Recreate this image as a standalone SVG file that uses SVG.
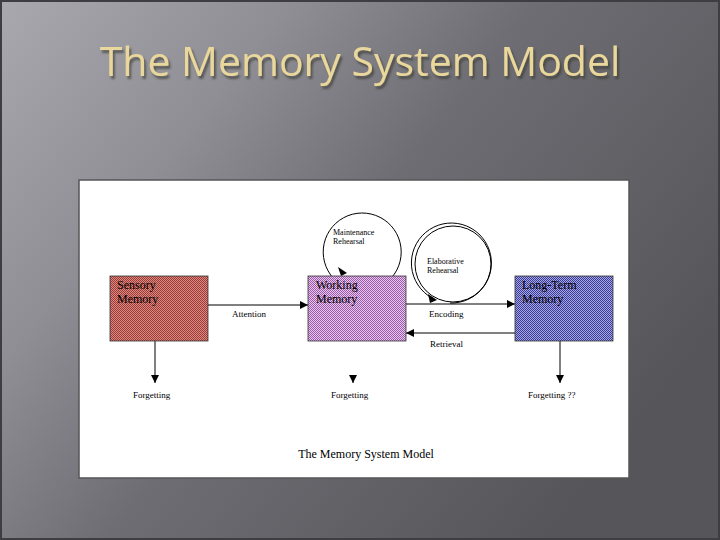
<svg xmlns="http://www.w3.org/2000/svg" width="720" height="540" viewBox="0 0 720 540">
<defs>
<linearGradient id="bg" x1="0" y1="0" x2="1" y2="0.6">
<stop offset="0" stop-color="#a9a8ae"/><stop offset="0.3" stop-color="#8f8e94"/><stop offset="0.55" stop-color="#6e6d73"/><stop offset="1" stop-color="#56555a"/>
</linearGradient>
<filter id="sh" x="-5%" y="-20%" width="110%" height="150%"><feDropShadow dx="2" dy="3" stdDeviation="0.8" flood-color="#3a3a34" flood-opacity="0.7"/></filter>
<pattern id="red" width="2" height="2" patternUnits="userSpaceOnUse"><rect width="2" height="2" fill="#d88a84"/><rect width="1" height="1" fill="#a03a34"/><rect x="1" y="1" width="1" height="1" fill="#a03a34"/></pattern>
<pattern id="pur" width="2" height="2" patternUnits="userSpaceOnUse"><rect width="2" height="2" fill="#e8c8ee"/><rect width="1" height="1" fill="#9a5aa8"/><rect x="1" y="1" width="1" height="1" fill="#9a5aa8"/></pattern>
<pattern id="blu" width="2" height="2" patternUnits="userSpaceOnUse"><rect width="2" height="2" fill="#a8a8e0"/><rect width="1" height="1" fill="#3a3a9a"/><rect x="1" y="1" width="1" height="1" fill="#3a3a9a"/></pattern>
<marker id="ah" viewBox="0 0 10 10" refX="10" refY="5" markerWidth="8" markerHeight="8" orient="auto" markerUnits="userSpaceOnUse"><path d="M0,0 L10,5 L0,10 z" fill="#000"/></marker>
</defs>
<style>
.t{font-family:"Liberation Serif",serif;font-size:9px;fill:#000}
.s{font-family:"Liberation Serif",serif;font-size:8px;fill:#000}
.n{font-family:"Liberation Serif",serif;font-size:12px;fill:#000}
.box{stroke:#333;stroke-width:0.8}
.ln{stroke:#000;stroke-width:1;fill:none}
</style>
<rect width="720" height="540" fill="url(#bg)"/>
<rect x="1" y="1" width="718" height="538" fill="none" stroke="#3e3d42" stroke-width="2"/>
<text x="360" y="76" text-anchor="middle" font-family="Open Sans,sans-serif" font-size="41" fill="#e9d79c" filter="url(#sh)">The Memory System Model</text>
<rect x="79" y="180" width="550" height="298" fill="#fff" stroke="#555" stroke-width="1.5"/>
<g id="connectors">
<line class="ln" x1="208" y1="305" x2="308" y2="305" marker-end="url(#ah)"/>
<line class="ln" x1="406" y1="304" x2="515" y2="304" marker-end="url(#ah)"/>
<line class="ln" x1="515" y1="333" x2="406" y2="333" marker-end="url(#ah)"/>
<line class="ln" x1="155" y1="341" x2="155" y2="383" marker-end="url(#ah)"/>
<line class="ln" x1="353" y1="376" x2="353" y2="383" marker-end="url(#ah)"/>
<line class="ln" x1="560" y1="341" x2="560" y2="383" marker-end="url(#ah)"/>
<path class="ln" d="M345,287 A39,39 0 1 1 362,291" />
<path d="M338,267 L347,273 L341,276 z" fill="#000"/>
<circle cx="453" cy="264" r="38" class="ln" stroke-width="1.3"/>
<path class="ln" d="M432,298 A40,40 0 1 1 450,303" stroke-width="1.3"/>
<path d="M428,294 L437,300 L430,303 z" fill="#000"/>
<text class="t" x="232" y="317">Attention</text>
<text class="t" x="429" y="317">Encoding</text>
<text class="t" x="430" y="347">Retrieval</text>
<text class="s" x="333" y="235">Maintenance</text>
<text class="s" x="333" y="244">Rehearsal</text>
<text class="s" x="427" y="264">Elaborative</text>
<text class="s" x="427" y="273">Rehearsal</text>
</g>
<g id="sensory"><rect class="box" x="110" y="276" width="98" height="65" fill="url(#red)"/><text class="n" x="117" y="289">Sensory</text><text class="n" x="117" y="303">Memory</text></g>
<g id="working"><rect class="box" x="308" y="276" width="98" height="65" fill="url(#pur)"/><text class="n" x="316" y="289">Working</text><text class="n" x="316" y="303">Memory</text></g>
<g id="ltm"><rect class="box" x="515" y="276" width="98" height="65" fill="url(#blu)"/><text class="n" x="522" y="289">Long-Term</text><text class="n" x="522" y="303">Memory</text></g>
<g id="forget">
<text class="t" x="133" y="398">Forgetting</text>
<text class="t" x="331" y="398">Forgetting</text>
<text class="t" x="528" y="398">Forgetting ??</text>
</g>
<text x="366" y="458" text-anchor="middle" font-family="Liberation Serif,serif" font-size="12" fill="#000">The Memory  System  Model</text>
</svg>
